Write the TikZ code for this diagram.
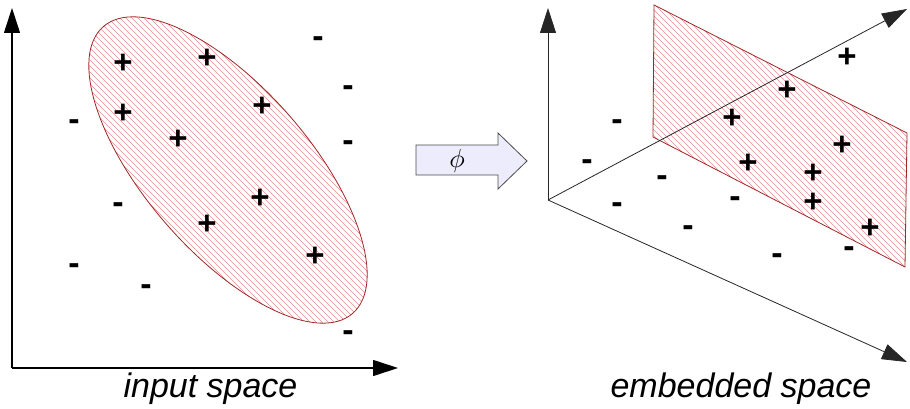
\documentclass[tikz,border=0pt]{standalone}
\usepackage{fontspec}
\setmainfont{Liberation Sans}
\usetikzlibrary{arrows.meta}
\definecolor{edge}{RGB}{160,40,40}
\definecolor{hatch}{RGB}{232,140,140}
\definecolor{lav}{RGB}{236,236,252}
\begin{document}
\begin{tikzpicture}[x=1pt,y=-1pt,
  axis/.style={line width=1.1pt, -{Triangle[length=25pt,width=16pt]}},
  axisb/.style={line width=0.8pt, draw=black!85, -{Triangle[length=25pt,width=16pt]}},
  border/.style={draw=edge, line width=0.8pt},
  hatchline/.style={draw=hatch, line width=0.45pt},
  pl/.style={font=\fontsize{33}{33}\selectfont\bfseries, inner sep=0pt, anchor=base, yshift=-11.5pt},
  mi/.style={font=\fontsize{34}{34}\selectfont\bfseries, inner sep=0pt, anchor=base, yshift=-8pt},
  lbl/.style={font=\fontsize{34}{34}\selectfont\itshape, inner sep=0pt, anchor=base}]
\useasboundingbox (0,0) rectangle (910,409);

% ---------- input space ----------
\begin{scope}
  \clip[rotate around={-49:(228,170)}] (228,170) ellipse [x radius=190pt, y radius=82pt];
  \foreach \c in {-240,-234,...,360} \draw[hatchline] (\c,0) -- (\c+400,400);
\end{scope}
\draw[border, rotate around={-49:(228,170)}] (228,170) ellipse [x radius=190pt, y radius=82pt];
\coordinate (O1) at (12,368);
\coordinate (Y1) at (12,8);
\coordinate (X1) at (398,368);
\draw[axis] (O1) -- (Y1);
\draw[axis] (O1) -- (X1);

\node[pl] (lp1) at (123,62) {+};
\node[pl] (lp2) at (207,57) {+};
\node[pl] (lp3) at (123,112) {+};
\node[pl] (lp4) at (262,105) {+};
\node[pl] (lp5) at (178,138) {+};
\node[pl] (lp6) at (260,197) {+};
\node[pl] (lp7) at (207,223) {+};
\node[pl] (lp8) at (315,255) {+};

\node[mi] (lm1) at (318,40) {-};
\node[mi] (lm2) at (348,89) {-};
\node[mi] (lm3) at (74,123) {-};
\node[mi] (lm4) at (348,144) {-};
\node[mi] (lm5) at (118,205) {-};
\node[mi] (lm6) at (74,266) {-};
\node[mi] (lm7) at (146,287) {-};
\node[mi] (lm8) at (348,333) {-};

\node[lbl] (lin) at (210.5,397) {input space};

% ---------- phi arrow ----------
\draw[draw=black!70, fill=lav, line width=0.8pt]
  (416,145) -- (498,145) -- (498,133) -- (527,161) -- (498,189) -- (498,175) -- (416,175) -- cycle;
\node (phi) at (457,161) {\scalebox{2.6}{$\phi$}};

% ---------- embedded space ----------
\begin{scope}
  \clip (654,5) -- (907,133) -- (905,267) -- (653,137) -- cycle;
  \foreach \c in {380,386,...,910} \draw[hatchline] (\c,0) -- (\c+300,300);
\end{scope}
\draw[border] (654,5) -- (907,133) -- (905,267) -- (653,137) -- cycle;
\coordinate (O2) at (548,200);
\coordinate (Y2) at (548,8);
\coordinate (U2) at (907,9);
\coordinate (D2) at (907,362);
\draw[axisb] (O2) -- (Y2);
\draw[axisb] (O2) -- (U2);
\draw[axisb] (O2) -- (D2);

\node[pl] (rp1) at (847,56) {+};
\node[pl] (rp2) at (787,89) {+};
\node[pl] (rp3) at (732,117) {+};
\node[pl] (rp4) at (842,144) {+};
\node[pl] (rp5) at (748,162) {+};
\node[pl] (rp6) at (813,172) {+};
\node[pl] (rp7) at (813,201) {+};
\node[pl] (rp8) at (870,227) {+};

\node[mi] (rm1) at (617,123) {-};
\node[mi] (rm2) at (587,162) {-};
\node[mi] (rm3) at (662,178) {-};
\node[mi] (rm4) at (617,205) {-};
\node[mi] (rm5) at (735,199) {-};
\node[mi] (rm6) at (688,228) {-};
\node[mi] (rm7) at (777,256) {-};
\node[mi] (rm8) at (849,249) {-};

\node[lbl] (lemb) at (741,397) {embedded space};
\end{tikzpicture}
\end{document}
